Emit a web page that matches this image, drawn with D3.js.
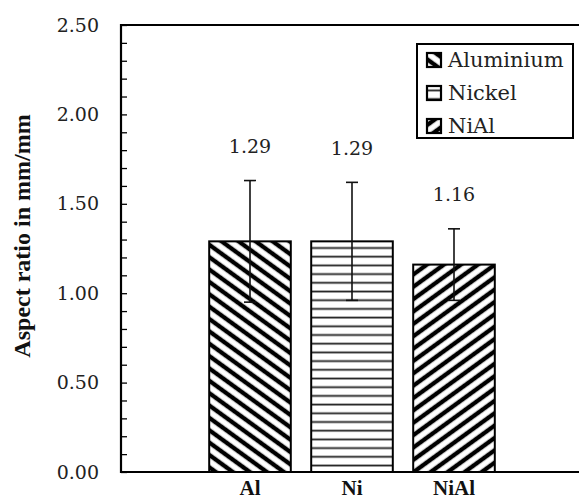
<!DOCTYPE html>
<html>
<head>
<meta charset="utf-8">
<script src="https://cdn.jsdelivr.net/npm/d3@7"></script>
<style>
  body { margin: 0; background: #fff; }
  svg { display: block; }
  .reg { font-family: "DejaVu Serif", "Liberation Serif", serif; }
  .bld { font-family: "Liberation Serif", "DejaVu Serif", serif; font-weight: bold; }
</style>
</head>
<body>
<div id="chart"></div>
<script>
// data
const categories = ["Al", "Ni", "NiAl"];
const seriesNames = ["Aluminium", "Nickel", "NiAl"];
const means = [1.29, 1.29, 1.16];
const errors = [0.34, 0.33, 0.20];
const valueLabels = ["1.29", "1.29", "1.16"];
const yTickValues = [0, 0.5, 1.0, 1.5, 2.0, 2.5];

const width = 579, height = 500;
const plot = { left: 121, top: 25, bottom: 472, right: 600 };

const svg = d3.select("#chart").append("svg")
    .attr("width", width)
    .attr("height", height);

// hatch patterns
const defs = svg.append("defs");
function diagPattern(id, angle) {
    const p = defs.append("pattern")
        .attr("id", id)
        .attr("patternUnits", "userSpaceOnUse")
        .attr("width", 10).attr("height", 10)
        .attr("patternTransform", `rotate(${angle})`);
    p.append("rect").attr("width", 10).attr("height", 10).attr("fill", "#fff");
    p.append("rect").attr("y", 2.8).attr("width", 10).attr("height", 4.4).attr("fill", "#000");
}
diagPattern("hatch-al", 36);
diagPattern("hatch-nial", -36);
const ph = defs.append("pattern")
    .attr("id", "hatch-ni")
    .attr("patternUnits", "userSpaceOnUse")
    .attr("width", 10).attr("height", 8.7);
ph.append("rect").attr("width", 10).attr("height", 8.7).attr("fill", "#fff");
ph.append("rect").attr("y", 3.5).attr("width", 10).attr("height", 1.8).attr("fill", "#222");
const fills = ["url(#hatch-al)", "url(#hatch-ni)", "url(#hatch-nial)"];

const x = d3.scaleBand()
    .domain(categories)
    .range([199, 505])
    .paddingInner(0.2)
    .paddingOuter(0.1);

const y = d3.scaleLinear()
    .domain([0, 2.5])
    .range([plot.bottom, plot.top]);

// bars
svg.append("g").selectAll("rect")
    .data(categories)
    .join("rect")
    .attr("x", d => x(d))
    .attr("y", (d, i) => y(means[i]))
    .attr("width", x.bandwidth())
    .attr("height", (d, i) => y(0) - y(means[i]))
    .attr("fill", (d, i) => fills[i])
    .attr("stroke", "#000")
    .attr("stroke-width", 2);

// error bars
const eb = svg.append("g").attr("stroke", "#111").attr("stroke-width", 1.6);
categories.forEach((c, i) => {
    const cx = x(c) + x.bandwidth() / 2;
    const hi = y(means[i] + errors[i]), lo = y(means[i] - errors[i]);
    eb.append("line").attr("x1", cx).attr("x2", cx).attr("y1", hi).attr("y2", lo);
    eb.append("line").attr("x1", cx - 6).attr("x2", cx + 6).attr("y1", hi).attr("y2", hi);
    eb.append("line").attr("x1", cx - 6).attr("x2", cx + 6).attr("y1", lo).attr("y2", lo);
});

// value labels
svg.append("g").selectAll("text")
    .data(categories)
    .join("text")
    .attr("class", "reg")
    .attr("x", d => x(d) + x.bandwidth() / 2)
    .attr("y", (d, i) => y(means[i] + errors[i]) - 34)
    .attr("dy", "0.35em")
    .attr("text-anchor", "middle")
    .attr("font-size", 19)
    .attr("fill", "#222")
    .text((d, i) => valueLabels[i]);

// y axis: inner minor ticks every 0.1
const yAxis = d3.axisRight(y)
    .tickValues(d3.range(0, 2.51, 0.1))
    .tickSize(6)
    .tickFormat("");
svg.append("g")
    .attr("transform", `translate(${plot.left},0)`)
    .call(yAxis)
    .call(g => g.select(".domain").remove())
    .call(g => g.selectAll("line").attr("stroke", "#000").attr("stroke-width", 1.3));

// y tick labels
svg.append("g").selectAll("text")
    .data(yTickValues)
    .join("text")
    .attr("class", "reg")
    .attr("x", 99)
    .attr("y", d => y(d))
    .attr("dy", "0.35em")
    .attr("text-anchor", "end")
    .attr("font-size", 19)
    .attr("fill", "#222")
    .text(d => d3.format(".2f")(d));

// frame
svg.append("path")
    .attr("d", `M${plot.right},${plot.top}H${plot.left}V${plot.bottom}H${plot.right}`)
    .attr("fill", "none")
    .attr("stroke", "#000")
    .attr("stroke-width", 2.2);

// x labels
svg.append("g").selectAll("text")
    .data(categories)
    .join("text")
    .attr("class", "bld")
    .attr("x", d => x(d) + x.bandwidth() / 2)
    .attr("y", 495)
    .attr("text-anchor", "middle")
    .attr("font-size", 21)
    .attr("fill", "#111")
    .text(d => d);

// y title
svg.append("text")
    .attr("class", "bld")
    .attr("transform", `translate(30,236) rotate(-90)`)
    .attr("text-anchor", "middle")
    .attr("font-size", 24)
    .attr("fill", "#111")
    .text("Aspect ratio in mm/mm");

// legend
const legend = svg.append("g").attr("transform", "translate(417,44)");
legend.append("rect")
    .attr("width", 156).attr("height", 94)
    .attr("fill", "#fff")
    .attr("stroke", "#000")
    .attr("stroke-width", 2);
seriesNames.forEach((name, i) => {
    const g = legend.append("g").attr("transform", `translate(10,${9 + i * 33})`);
    g.append("rect")
        .attr("width", 14).attr("height", 14)
        .attr("fill", fills[i])
        .attr("stroke", "#000")
        .attr("stroke-width", 2.2);
    g.append("text")
        .attr("class", "reg")
        .attr("x", 21)
        .attr("y", 7)
        .attr("dy", "0.35em")
        .attr("font-size", 21)
        .attr("fill", "#222")
        .text(name);
});
</script>
</body>
</html>
